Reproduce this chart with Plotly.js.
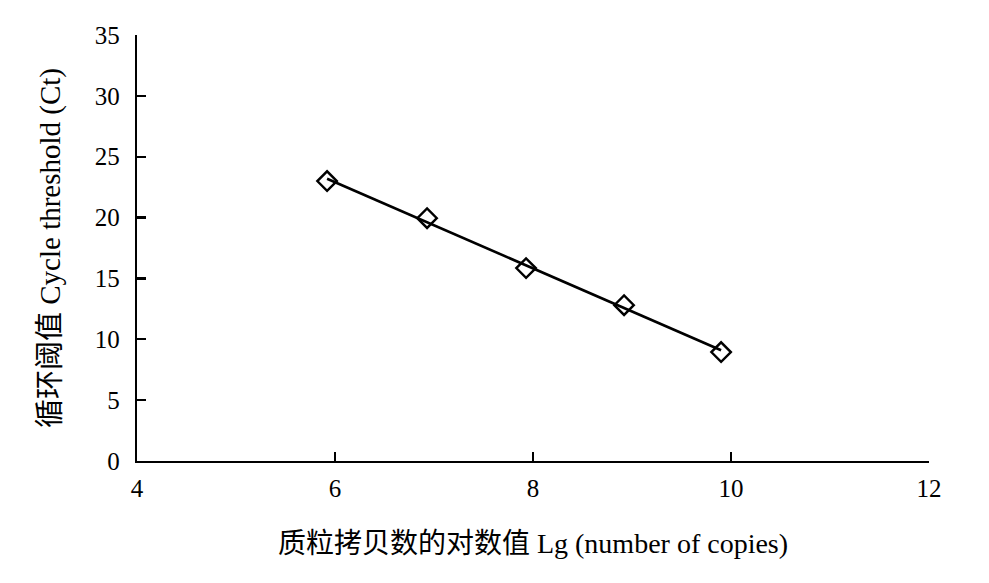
<!DOCTYPE html>
<html>
<head>
<meta charset="utf-8">
<script src="https://cdn.plot.ly/plotly-3.0.1.min.js"></script>
<style>html,body{margin:0;padding:0;background:#fff;}#chart{width:989px;height:583px;}</style>
</head>
<body>
<div id="chart"></div>
<script>
// Data
const logCopies = [5.92, 6.93, 7.93, 8.92, 9.90];
const ctValues = [23.0, 19.95, 15.85, 12.8, 8.95];
const xTicks = [4, 6, 8, 10, 12];
const yTicks = [0, 5, 10, 15, 20, 25, 30, 35];
const xTitle = '质粒拷贝数的对数值 Lg (number of copies)';
const yTitle = '循环阈值 Cycle threshold (Ct)';

// Least-squares trendline computed from the data
const n = logCopies.length;
const mx = logCopies.reduce((a, b) => a + b, 0) / n;
const my = ctValues.reduce((a, b) => a + b, 0) / n;
let sxy = 0, sxx = 0;
for (let i = 0; i < n; i++) {
  sxy += (logCopies[i] - mx) * (ctValues[i] - my);
  sxx += (logCopies[i] - mx) ** 2;
}
const slope = sxy / sxx;
const intercept = my - slope * mx;
const fitX = [Math.min(...logCopies), Math.max(...logCopies)];
const fitY = fitX.map(x => intercept + slope * x);

const fontFam = '"Liberation Serif", "Times New Roman", "Noto Sans CJK SC", serif';

const traces = [
  {x: fitX, y: fitY, mode: 'lines', line: {color: '#000', width: 2.6}, hoverinfo: 'skip'},
  {x: logCopies, y: ctValues, mode: 'markers',
   marker: {symbol: 'diamond-open', size: 15, color: '#000', line: {width: 2.4, color: '#000'}}}
];

const layout = {
  width: 989, height: 583,
  margin: {l: 137, r: 60, t: 35, b: 122},
  paper_bgcolor: '#fff', plot_bgcolor: '#fff',
  showlegend: false,
  font: {family: fontFam, color: '#000', size: 25},
  xaxis: {
    range: [4, 12], tickvals: xTicks, ticktext: xTicks.map(String),
    showgrid: false, zeroline: false, showline: true, linecolor: '#000', linewidth: 2.2,
    ticks: 'inside', ticklen: 9, tickwidth: 2.2, tickcolor: '#000',
    ticklabelstandoff: 4,
    tickfont: {family: fontFam, size: 25, color: '#000'},
    title: {text: xTitle, font: {family: fontFam, size: 28, color: '#000'}, standoff: 32}
  },
  yaxis: {
    range: [0, 35], tickvals: yTicks, ticktext: yTicks.map(String),
    showgrid: false, zeroline: false, showline: true, linecolor: '#000', linewidth: 2.2,
    ticks: 'inside', ticklen: 9, tickwidth: 2.2, tickcolor: '#000',
    ticklabelstandoff: 10,
    tickfont: {family: fontFam, size: 25, color: '#000'},
    title: {text: yTitle, font: {family: fontFam, size: 29, color: '#000'}, standoff: 26}
  }
};

Plotly.newPlot('chart', traces, layout, {displayModeBar: false, staticPlot: true});
</script>
</body>
</html>
